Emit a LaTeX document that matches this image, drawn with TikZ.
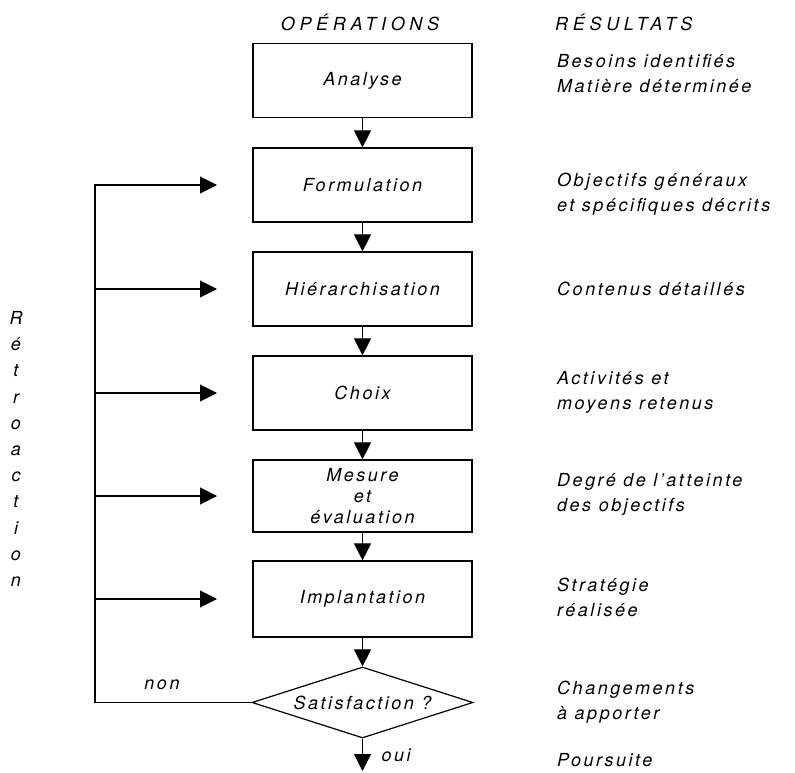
\documentclass[tikz,border=0pt]{standalone}
\usepackage{fontspec}
\setmainfont{TeX Gyre Heros}[LetterSpace=14]
\usetikzlibrary{arrows.meta,shapes.geometric}
\newcommand{\texte}{\fontsize{18}{25}\selectfont\itshape}
\newcommand{\titre}{\texte\addfontfeature{LetterSpace=26}}
\newcommand{\retour}[1]{\draw[fleche] (gauche |- #1) -- (pointe |- #1);}
\tikzset{
  etape/.style={draw, line width=1.2pt, minimum width=219pt, minimum height=74pt, inner sep=0pt, font=\texte},
  test/.style={draw, diamond, aspect=3.1, line width=1.2pt, minimum width=221pt, minimum height=71pt, inner sep=0pt, font=\texte},
  resultat/.style={anchor=west, align=left, inner sep=0pt, font=\texte},
  fleche/.style={line width=1.1pt, -{Triangle[length=17pt,width=17pt]}}
}

\begin{document}
\begin{tikzpicture}[x=1pt, y=-1pt]
        \useasboundingbox (0,0) rectangle (795,773);
        % titres
        \node[font=\titre] (titreop) at (360,22) {OPÉRATIONS};
        \node[resultat, font=\titre] (titreres) at (555,22) {RÉSULTATS};
        % etapes
        \node[etape] (analyse) at (362.5,80.5) {Analyse};
        \node[etape] (formulation) at (362.5,185) {Formulation};
        \node[etape] (hier) at (362.5,289) {Hiérarchisation};
        \node[etape] (choix) at (362.5,393) {Choix};
        \node[etape, minimum height=72pt, align=center, font=\fontsize{18}{21}\selectfont\itshape] (mesure) at (362.5,496) {Mesure\\et\\évaluation};
        \node[etape, minimum height=76pt] (implantation) at (362.5,599) {Implantation};
        \node[test] (satisf) at (362.5,702.5) {Satisfaction ?};
        \coordinate (fin) at (362.5,771);
        \coordinate (gauche) at (95,0);
        \coordinate (pointe) at (217,0);
        % resultats
        \node[resultat] (res1) at (557,74) {Besoins identifiés\\Matière déterminée};
        \node[resultat] (res2) at (557,194) {Objectifs généraux\\et spécifiques décrits};
        \node[resultat] (res3) at (557,289) {Contenus détaillés};
        \node[resultat] (res4) at (557,392) {Activités et\\moyens retenus};
        \node[resultat] (res5) at (557,494) {Degré de l'atteinte\\des objectifs};
        \node[resultat] (res6) at (557,597) {Stratégie\\réalisée};
        \node[resultat] (res7) at (557,702) {Changements\\à apporter};
        \node[resultat] (res8) at (557,760) {Poursuite};
        % enchainement
        \draw[fleche] (analyse) -- (formulation);
        \draw[fleche] (formulation) -- (hier);
        \draw[fleche] (hier) -- (choix);
        \draw[fleche] (choix) -- (mesure);
        \draw[fleche] (mesure) -- (implantation);
        \draw[fleche] (implantation) -- (satisf);
        \draw[fleche] (satisf) -- (fin);
        % retroaction
        \draw[fleche] (satisf.west) -- (gauche |- satisf.west) -- (gauche |- formulation) -- (pointe |- formulation);
        \retour{hier}
        \retour{choix}
        \retour{mesure}
        \retour{implantation}
        \node[font=\texte] (non) at (162,685) {non};
        \node[font=\texte, anchor=west] (oui) at (378,755) {oui};
        \node[font=\fontsize{18}{26.2}\selectfont\itshape, align=center, inner sep=0pt] (retro) at (16,449) {R\\é\\t\\r\\o\\a\\c\\t\\i\\o\\n};
    \end{tikzpicture}
\end{document}
